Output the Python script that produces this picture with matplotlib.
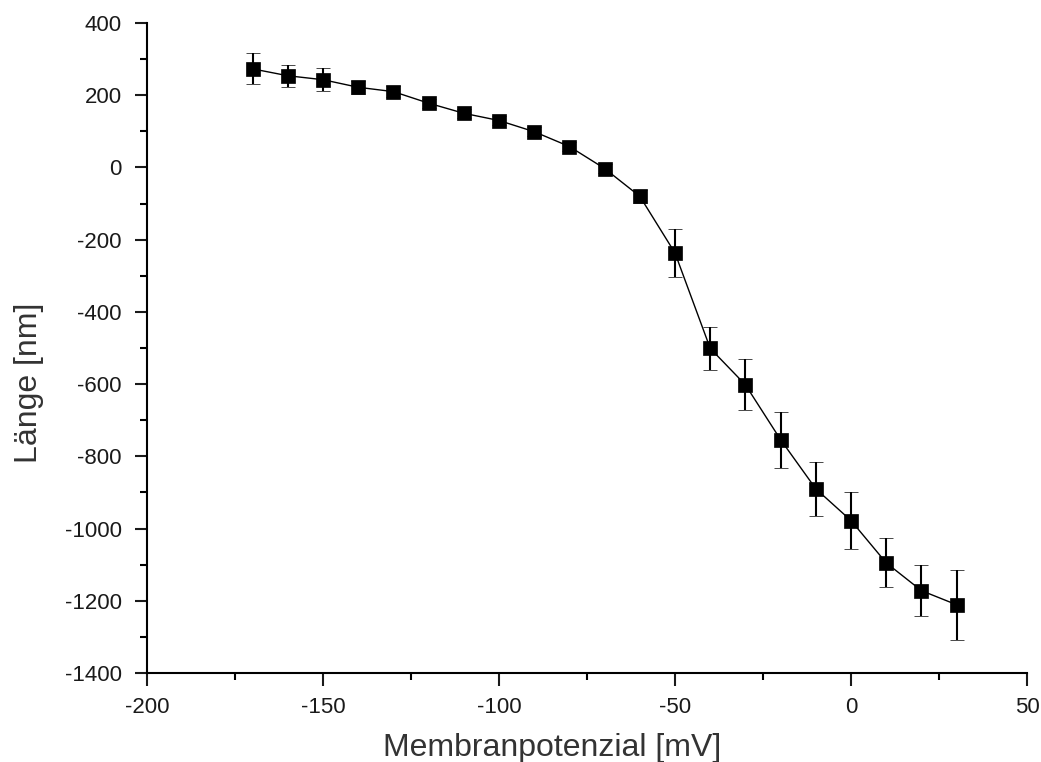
import matplotlib
matplotlib.use("Agg")
import matplotlib.pyplot as plt
from matplotlib.ticker import MultipleLocator

voltage = [-170, -160, -150, -140, -130, -120, -110, -100, -90, -80, -70, -60,
           -50, -40, -30, -20, -10, 0, 10, 20, 30]
length = [273, 254, 243, 222, 210, 178, 150, 130, 99, 58, -3, -80,
          -237, -501, -602, -754, -890, -978, -1095, -1172, -1211]
error = [43, 30, 32, 18, 15, 12, 12, 12, 12, 12, 12, 18,
         66, 60, 71, 77, 74, 79, 68, 70, 97]

plt.rcParams['font.family'] = ['Liberation Sans', 'DejaVu Sans']
plt.rcParams['axes.unicode_minus'] = False

fig = plt.figure(figsize=(10.41, 7.62), dpi=100)
ax = fig.add_axes([0.1412, 0.1168, 0.8454, 0.853])

ax.errorbar(voltage, length, yerr=error, fmt='s-', color='black',
            markersize=10, linewidth=1.0, elinewidth=1.5, capsize=5,
            capthick=1.5, markeredgecolor='black', markeredgewidth=0.5)

ax.set_xlim(-200, 50)
ax.set_ylim(-1400, 400)
ax.xaxis.set_major_locator(MultipleLocator(50))
ax.xaxis.set_minor_locator(MultipleLocator(25))
ax.yaxis.set_major_locator(MultipleLocator(200))
ax.yaxis.set_minor_locator(MultipleLocator(100))

for s in ['top', 'right']:
    ax.spines[s].set_visible(False)
for s in ['left', 'bottom']:
    ax.spines[s].set_linewidth(1.5)

ax.tick_params(which='major', direction='out', length=9, width=1.5,
               labelsize=16, colors='#1a1a1a')
ax.tick_params(axis='y', which='major', pad=9)
ax.tick_params(axis='x', which='major', pad=8)
ax.tick_params(which='minor', direction='out', length=5, width=1.5)

ax.set_xlabel('Membranpotenzial [mV]', fontsize=23, color='#333')
ax.set_ylabel('Länge [nm]', fontsize=23, color='#333')
ax.xaxis.set_label_coords(0.46, -0.093)
ax.yaxis.set_label_coords(-0.117, 0.446)

fig.savefig('out.png', dpi=100)
